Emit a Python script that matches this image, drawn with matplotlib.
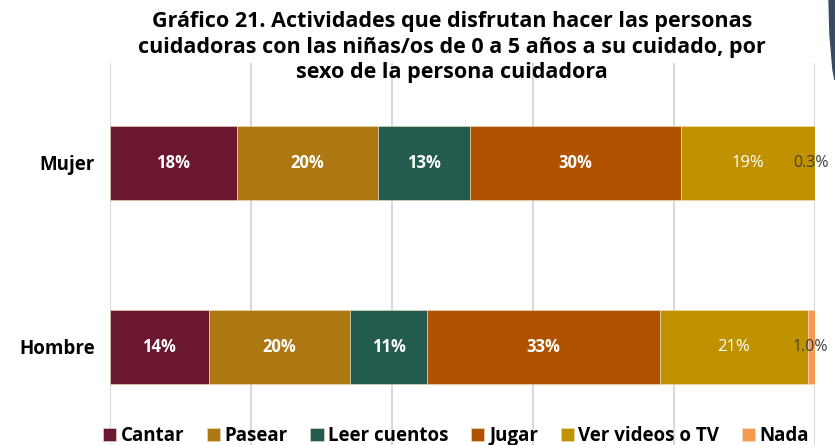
import matplotlib
matplotlib.use('Agg')
import matplotlib.pyplot as plt
from matplotlib.patches import Polygon
import numpy as np

groups = ['Hombre', 'Mujer']
activities = ['Cantar', 'Pasear', 'Leer cuentos', 'Jugar', 'Ver videos o TV', 'Nada']
# values in %, rows follow groups
hombre = [14, 20, 11, 33, 21, 1.0]
mujer = [18, 20, 13, 30, 19, 0.3]
labels_hombre = ['14%', '20%', '11%', '33%', '21%', '1.0%']
labels_mujer = ['18%', '20%', '13%', '30%', '19%', '0.3%']
colors = ['#6B1730', '#AD7811', '#235B4E', '#B05200', '#C09100', '#F59A50']

plt.rcParams['font.family'] = ['Open Sans', 'DejaVu Sans']

fig = plt.figure(figsize=(8.35, 4.45), dpi=100)
ax = fig.add_axes([110/835, 0.0, 705/835, (445-63)/445])

data = np.array([hombre, mujer])
texts = [labels_hombre, labels_mujer]
ypos = np.arange(len(groups))
left = np.zeros(len(groups))
for j, act in enumerate(activities):
    ax.barh(ypos, data[:, j], left=left, height=0.4, color=colors[j],
            edgecolor='#f0e0c0', linewidth=0.4, label=act, zorder=3)
    for i in range(len(groups)):
        xc = left[i] + data[i, j] / 2
        if j == 5:
            ax.text(99.4, ypos[i], texts[i][j], ha='center', va='center',
                    fontsize=11.5, color='#404040', zorder=4)
        elif j == 4:
            ax.text(xc, ypos[i], texts[i][j], ha='center', va='center',
                    fontsize=12, color='white', zorder=4)
        else:
            ax.text(xc, ypos[i], texts[i][j], ha='center', va='center',
                    fontsize=12, color='white', fontweight='bold', zorder=4)
    left += data[:, j]

ax.set_xlim(0, 100)
ax.set_ylim(-0.533, 1.543)
ax.set_xticks([0, 20, 40, 60, 80, 100])
ax.set_xticklabels([])
ax.tick_params(axis='x', length=0)
ax.grid(axis='x', color='#D9D9D9', linewidth=1.5, zorder=0)
ax.set_yticks(ypos)
ax.set_yticklabels(groups, fontsize=13.5, fontweight='bold')
ax.tick_params(axis='y', length=0, pad=11)
for s in ax.spines.values():
    s.set_visible(False)

fig.text(452/835, 1 - 47/445,
         'Gráfico 21. Actividades que disfrutan hacer las personas\n'
         'cuidadoras con las niñas/os de 0 a 5 años a su cuidado, por\n'
         'sexo de la persona cuidadora',
         ha='center', va='center', fontsize=15.5, fontweight='bold', linespacing=1.3)

leg = fig.legend(loc='center', bbox_to_anchor=(456/835, 1 - 436/445), ncol=6, frameon=False,
                 handlelength=0.7, handleheight=0.7, handletextpad=0.25, columnspacing=1.2,
                 prop={'size': 13.5, 'weight': 'bold'})

# page decoration in the top right corner
fig.patches.append(Polygon([[829/835, 1.0], [835/835, 1.0], [835/835, 1 - 80/445],
                            [833/835, 1 - 70/445], [830/835, 1 - 35/445]],
                           closed=True, transform=fig.transFigure, color='#3A4A63'))

fig.savefig('out.png', dpi=100)
